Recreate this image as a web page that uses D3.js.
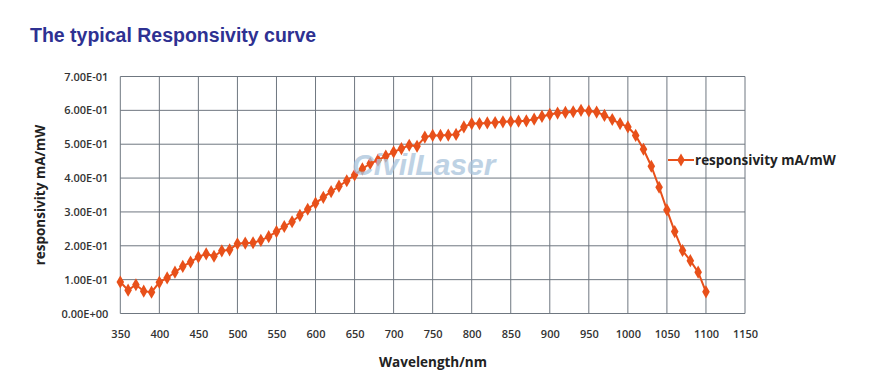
<!DOCTYPE html>
<html>
<head>
<meta charset="utf-8">
<script src="https://cdn.jsdelivr.net/npm/d3@7"></script>
<style>
  body { margin: 0; background: #fff; }
  svg { display: block; }
  .axis text { font-family: "Open Sans", sans-serif; font-size: 11px; font-weight: 600; fill: #333; }
</style>
</head>
<body>
<div id="chart"></div>
<script>
// wavelength (nm) and responsivity (mA/mW)
var wavelength = [350, 360, 370, 380, 390, 400, 410, 420, 430, 440, 450, 460, 470, 480, 490,
  500, 510, 520, 530, 540, 550, 560, 570, 580, 590, 600, 610, 620, 630, 640, 650, 660, 670,
  680, 690, 700, 710, 720, 730, 740, 750, 760, 770, 780, 790, 800, 810, 820, 830, 840, 850,
  860, 870, 880, 890, 900, 910, 920, 930, 940, 950, 960, 970, 980, 990, 1000, 1010, 1020,
  1030, 1040, 1050, 1060, 1070, 1080, 1090, 1100];
var responsivity = [0.093, 0.069, 0.085, 0.066, 0.063, 0.092, 0.105, 0.122, 0.139, 0.152,
  0.167, 0.176, 0.169, 0.185, 0.188, 0.206, 0.208, 0.209, 0.216, 0.227, 0.242, 0.257, 0.271,
  0.290, 0.308, 0.326, 0.343, 0.360, 0.376, 0.392, 0.409, 0.427, 0.443, 0.453, 0.465, 0.477,
  0.487, 0.497, 0.494, 0.521, 0.526, 0.526, 0.527, 0.529, 0.551, 0.561, 0.561, 0.563, 0.564,
  0.566, 0.567, 0.568, 0.569, 0.574, 0.582, 0.588, 0.592, 0.594, 0.596, 0.600, 0.598, 0.595,
  0.585, 0.573, 0.561, 0.551, 0.526, 0.485, 0.435, 0.373, 0.306, 0.242, 0.186, 0.156, 0.122,
  0.064];
var xTicks = d3.range(350, 1151, 50);
var yTicks = [0, 0.1, 0.2, 0.3, 0.4, 0.5, 0.6, 0.7];
var yTickLabels = ["0.00E+00", "1.00E-01", "2.00E-01", "3.00E-01", "4.00E-01", "5.00E-01", "6.00E-01", "7.00E-01"];
var seriesName = "responsivity mA/mW";

var data = wavelength.map(function(w, i) { return { x: w, y: responsivity[i] }; });

var width = 872, height = 385;
var margin = { top: 76.5, right: 127, bottom: 71.5, left: 120.3 };
var w = width - margin.left - margin.right,
  h = height - margin.top - margin.bottom;

var svg = d3.select("#chart").append("svg")
  .attr("width", width)
  .attr("height", height);

// title
svg.append("text")
  .attr("x", 30)
  .attr("y", 42)
  .attr("font-family", "Liberation Sans, Arial, sans-serif")
  .attr("font-weight", "bold")
  .attr("font-size", 19.5)
  .attr("fill", "#2e3192")
  .text("The typical Responsivity curve");

var g = svg.append("g")
  .attr("transform", "translate(" + margin.left + "," + margin.top + ")");

var x = d3.scaleLinear().domain([350, 1150]).range([0, w]);
var y = d3.scaleLinear().domain([0, 0.7]).range([h, 0]);

// grid
g.append("g")
  .selectAll("line")
  .data(xTicks)
  .enter()
  .append("line")
  .attr("x1", function(d) { return x(d); })
  .attr("x2", function(d) { return x(d); })
  .attr("y1", 0)
  .attr("y2", h)
  .attr("stroke", "#6f7780")
  .attr("stroke-width", 1);
g.append("g")
  .selectAll("line")
  .data(yTicks)
  .enter()
  .append("line")
  .attr("x1", 0)
  .attr("x2", w)
  .attr("y1", function(d) { return y(d); })
  .attr("y2", function(d) { return y(d); })
  .attr("stroke", "#6f7780")
  .attr("stroke-width", 1);

// axes (labels only)
var xAxis = g.append("g")
  .attr("class", "axis")
  .attr("transform", "translate(0," + h + ")")
  .call(d3.axisBottom(x).tickValues(xTicks).tickSize(0).tickPadding(17)
    .tickFormat(d3.format("d")));
xAxis.select(".domain").remove();

var yAxis = g.append("g")
  .attr("class", "axis")
  .call(d3.axisLeft(y).tickValues(yTicks).tickSize(0).tickPadding(12)
    .tickFormat(function(d, i) { return yTickLabels[i]; }));
yAxis.select(".domain").remove();

// watermark
svg.append("text")
  .attr("x", 352)
  .attr("y", 175)
  .attr("font-family", "Liberation Sans, Arial, sans-serif")
  .attr("font-weight", "bold")
  .attr("font-style", "italic")
  .attr("font-size", 30)
  .attr("fill", "#a9c4dc")
  .attr("opacity", 0.75)
  .text("CivilLaser");

// axis titles
svg.append("text")
  .attr("transform", "translate(45," + (margin.top + h / 2) + ") rotate(-90)")
  .attr("text-anchor", "middle")
  .attr("font-family", "Open Sans, sans-serif")
  .attr("font-weight", "bold")
  .attr("font-size", 13.5)
  .attr("fill", "#222")
  .text(seriesName);
svg.append("text")
  .attr("x", 433)
  .attr("y", 367)
  .attr("text-anchor", "middle")
  .attr("font-family", "Open Sans, sans-serif")
  .attr("font-weight", "bold")
  .attr("font-size", 13.5)
  .attr("fill", "#222")
  .text("Wavelength/nm");

var color = "#e8501a";
var diamond = d3.symbol().type(d3.symbolDiamond).size(50);

var line = d3.line()
  .x(function(d) { return x(d.x); })
  .y(function(d) { return y(d.y); });

g.append("path")
  .datum(data)
  .attr("d", line)
  .attr("fill", "none")
  .attr("stroke", color)
  .attr("stroke-width", 2);

g.append("g")
  .selectAll("path")
  .data(data)
  .enter()
  .append("path")
  .attr("d", diamond)
  .attr("transform", function(d) { return "translate(" + x(d.x) + "," + y(d.y) + ")"; })
  .attr("fill", color);

// legend
var lg = svg.append("g").attr("transform", "translate(668,160)");
lg.append("line")
  .attr("x1", 0).attr("x2", 26)
  .attr("stroke", color)
  .attr("stroke-width", 2);
lg.append("path")
  .attr("d", diamond)
  .attr("transform", "translate(13,0)")
  .attr("fill", color);
lg.append("text")
  .attr("x", 27)
  .attr("y", 4.5)
  .attr("font-family", "Open Sans, sans-serif")
  .attr("font-weight", "bold")
  .attr("font-size", 13.5)
  .attr("fill", "#222")
  .text(seriesName);
</script>
</body>
</html>
